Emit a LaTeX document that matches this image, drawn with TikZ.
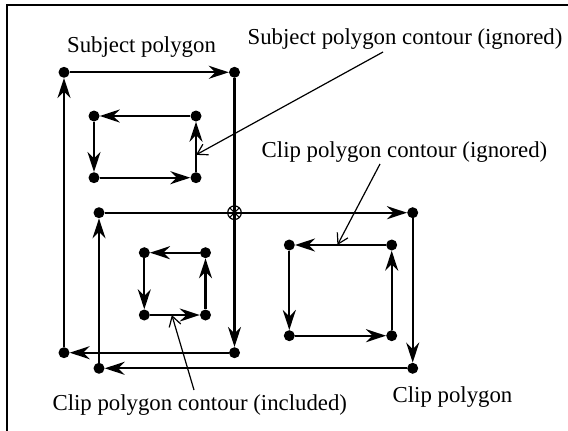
\documentclass[tikz,border=0pt]{standalone}
\usepackage{fontspec}
\setmainfont{Liberation Serif}
\usetikzlibrary{arrows.meta,calc}
\tikzset{
  dot/.style={circle,fill=black,inner sep=0pt,minimum size=11pt},
  edge/.style={line width=2.3pt,-{Stealth[length=20pt,width=13pt,inset=6.5pt]}},
  pointer/.style={line width=1.2pt,-{Straight Barb[length=10pt,width=12pt]}},
  lbl/.style={inner sep=0pt,anchor=base,font=\fontsize{22.8}{27}\selectfont},
  frameline/.style={line width=2.6pt}
}
\begin{document}
\begin{tikzpicture}[x=1pt,y=-1pt]
\useasboundingbox (0,0) rectangle (568,431);
\draw[frameline] (7,431) -- (7,5) -- (570,5);
% subject polygon outer
\node[dot] (sA) at (64,72.3) {};
\node[dot] (sB) at (234.5,72.3) {};
\node[dot] (sC) at (234.5,352.7) {};
\node[dot] (sD) at (64,352.7) {};
% subject inner contour
\node[dot] (iA) at (94,116) {};
\node[dot] (iB) at (196,116) {};
\node[dot] (iC) at (196,177.7) {};
\node[dot] (iD) at (94,177.7) {};
% clip polygon outer
\node[dot] (cA) at (99,212.7) {};
\node[dot] (cB) at (412.7,212.7) {};
\node[dot] (cC) at (412.7,368.3) {};
\node[dot] (cD) at (99,368.3) {};
% clip contour included
\node[dot] (pA) at (144.3,252.7) {};
\node[dot] (pB) at (205.5,252.7) {};
\node[dot] (pC) at (205.5,315) {};
\node[dot] (pD) at (144.3,315) {};
% clip contour ignored
\node[dot] (qA) at (289.3,245) {};
\node[dot] (qB) at (391.7,245) {};
\node[dot] (qC) at (391.7,335.7) {};
\node[dot] (qD) at (289.3,335.7) {};
% edges
\draw[edge] (sA) -- (sB);
\draw[edge] (sB) -- (sC);
\draw[edge] (sC) -- (sD);
\draw[edge] (sD) -- (sA);
\draw[edge] (iB) -- (iA);
\draw[edge] (iA) -- (iD);
\draw[edge] (iD) -- (iC);
\draw[edge] (iC) -- (iB);
\draw[edge] (cA) -- (cB);
\draw[edge] (cB) -- (cC);
\draw[edge] (cC) -- (cD);
\draw[edge] (cD) -- (cA);
\draw[edge] (pB) -- (pA);
\draw[edge] (pA) -- (pD);
\draw[edge] (pD) -- (pC);
\draw[edge] (pC) -- (pB);
\draw[edge] (qB) -- (qA);
\draw[edge] (qA) -- (qD);
\draw[edge] (qD) -- (qC);
\draw[edge] (qC) -- (qB);
% intersection marker
\coordinate (X) at (234.5,212.7);
\draw[line width=1.2pt] (X) circle (6.8);
\draw[line width=1.1pt] ($(X)+(-4.8,-4.8)$) -- ($(X)+(4.8,4.8)$);
\draw[line width=1.1pt] ($(X)+(-4.8,4.8)$) -- ($(X)+(4.8,-4.8)$);
% labels
\node[lbl] (l1) at (141.5,52.7) {Subject polygon};
\node[lbl] (l2) at (405,45) {Subject polygon contour (ignored)};
\node[lbl] (l3) at (404.5,157) {Clip polygon contour (ignored)};
\node[lbl] (l4) at (199.8,410) {Clip polygon contour (included)};
\node[lbl] (l5) at (452.5,402) {Clip polygon};
% pointers
\coordinate (s1) at (383,52);
\coordinate (t1) at ($(iC)!0.37!(iB)$);
\draw[pointer] (s1) -- (t1);
\coordinate (s2) at (380,164);
\coordinate (t2) at ($(qA)!0.47!(qB)$);
\draw[pointer] (s2) -- (t2);
\coordinate (s3) at (194,390);
\coordinate (t3) at ($(pD)!0.45!(pC)$);
\draw[pointer] (s3) -- (t3);
\end{tikzpicture}
\end{document}
